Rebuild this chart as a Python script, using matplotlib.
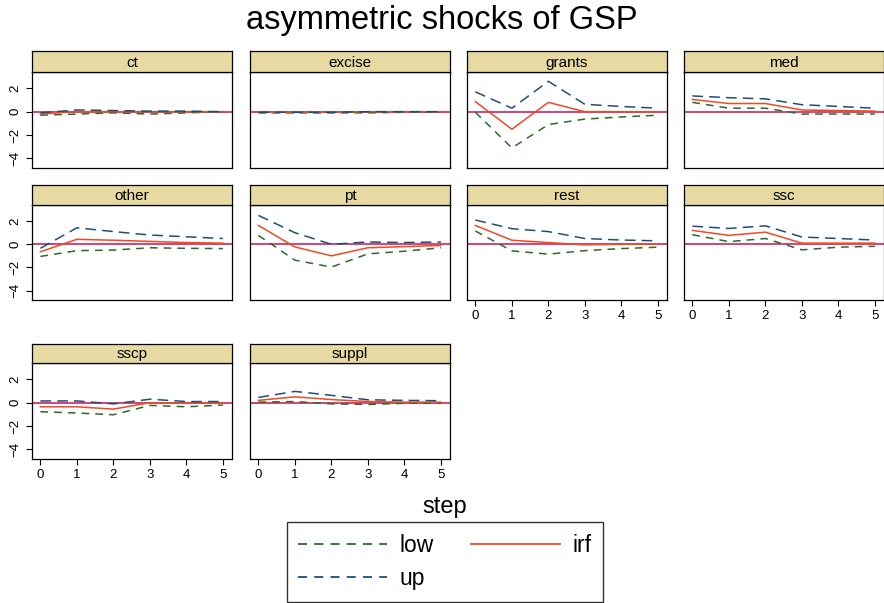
import numpy as np
import matplotlib
matplotlib.use("Agg")
from matplotlib import pyplot as plt
from matplotlib.lines import Line2D

plt.rcParams['font.family'] = ['Liberation Sans', 'DejaVu Sans']

steps = [0, 1, 2, 3, 4, 5]
panels = ['ct', 'excise', 'grants', 'med', 'other', 'pt', 'rest', 'ssc', 'sscp', 'suppl']

low = {
    'ct':     [-0.3, -0.2, -0.1, -0.2, -0.1, 0.0],
    'excise': [-0.1, -0.1, -0.1, -0.1, -0.05, 0.0],
    'grants': [-0.05, -3.1, -1.1, -0.63, -0.45, -0.3],
    'med':    [0.8, 0.3, 0.3, -0.2, -0.2, -0.2],
    'other':  [-1.05, -0.55, -0.5, -0.3, -0.35, -0.37],
    'pt':     [0.77, -1.37, -1.97, -0.83, -0.6, -0.3],
    'rest':   [1.15, -0.57, -0.85, -0.55, -0.37, -0.25],
    'ssc':    [0.83, 0.23, 0.5, -0.48, -0.25, -0.17],
    'sscp':   [-0.77, -0.88, -1.03, -0.23, -0.35, -0.2],
    'suppl':  [0.05, 0.1, -0.1, -0.15, -0.05, -0.05],
}
up = {
    'ct':     [-0.1, 0.15, 0.1, 0.05, 0.05, 0.0],
    'excise': [-0.05, -0.05, -0.05, 0.0, 0.0, 0.0],
    'grants': [1.7, 0.3, 2.6, 0.63, 0.45, 0.3],
    'med':    [1.35, 1.2, 1.1, 0.6, 0.45, 0.3],
    'other':  [-0.35, 1.43, 1.1, 0.8, 0.65, 0.5],
    'pt':     [2.5, 1.0, 0.0, 0.2, 0.15, 0.2],
    'rest':   [2.1, 1.35, 1.1, 0.5, 0.37, 0.3],
    'ssc':    [1.57, 1.37, 1.6, 0.63, 0.5, 0.37],
    'sscp':   [0.15, 0.15, -0.1, 0.3, 0.1, 0.1],
    'suppl':  [0.45, 0.97, 0.63, 0.25, 0.2, 0.17],
}
irf = {
    'ct':     [-0.2, 0.0, 0.0, 0.0, 0.0, 0.0],
    'excise': [-0.05, -0.05, -0.05, 0.0, 0.0, 0.0],
    'grants': [0.86, -1.5, 0.8, 0.0, 0.0, 0.0],
    'med':    [1.05, 0.7, 0.7, 0.15, 0.1, 0.05],
    'other':  [-0.65, 0.43, 0.35, 0.25, 0.15, 0.1],
    'pt':     [1.63, -0.23, -1.0, -0.3, -0.2, -0.1],
    'rest':   [1.63, 0.35, 0.15, -0.05, 0.0, 0.0],
    'ssc':    [1.2, 0.77, 1.05, 0.1, 0.1, 0.1],
    'sscp':   [-0.35, -0.35, -0.55, 0.0, -0.05, 0.0],
    'suppl':  [0.2, 0.5, 0.27, 0.1, 0.05, 0.05],
}

c_low = '#2a6b2a'
c_up = '#1f4e79'
c_irf = '#f04a24'
c_zero = '#d6336b'
c_strip = '#e6d9a2'

W, H = 884, 603
fig = plt.figure(figsize=(W / 100, H / 100), dpi=100)

col_x = [32, 250, 467, 684]
pw = 200
rows = [(51, 72, 168), (185, 205, 300), (344, 363, 459)]


def px(x0, y0, x1, y1):
    return [x0 / W, 1 - y1 / H, (x1 - x0) / W, (y1 - y0) / H]


for i, name in enumerate(panels):
    r, c = divmod(i, 4)
    st, top, bot = rows[r]
    x0 = col_x[c]
    ax = fig.add_axes(px(x0, top, x0 + pw, bot))
    ax.axhline(0, color=c_zero, lw=1.3, zorder=1)
    ax.plot(steps, low[name], color=c_low, lw=1.1, dashes=(5, 4), zorder=2)
    ax.plot(steps, up[name], color=c_up, lw=1.1, dashes=(7, 4), zorder=3)
    ax.plot(steps, irf[name], color=c_irf, lw=1.1, zorder=2)
    ax.set_xlim(-0.23, 5.25)
    ax.set_ylim(-4.82, 3.4)
    ax.set_yticks([-4, -2, 0, 2])
    ax.set_xticks(steps)
    ax.tick_params(direction='out', length=4, labelsize=9.5, width=0.8)
    bottom_of_col = (i + 4 >= len(panels))
    if not bottom_of_col:
        ax.tick_params(axis='x', bottom=False, labelbottom=False)
    if c != 0:
        ax.tick_params(axis='y', left=False, labelleft=False)
    else:
        for lab in ax.get_yticklabels():
            lab.set_rotation(90)
            lab.set_va('center')
    for s in ax.spines.values():
        s.set_linewidth(0.9)

    sax = fig.add_axes(px(x0, st, x0 + pw, top))
    sax.set_facecolor(c_strip)
    sax.set_xticks([])
    sax.set_yticks([])
    for s in sax.spines.values():
        s.set_linewidth(0.9)
    sax.text(0.5, 0.45, name, ha='center', va='center', fontsize=11, transform=sax.transAxes)

fig.text(442 / W, 1 - 20 / H, 'asymmetric shocks of GSP', ha='center', va='center', fontsize=23.5)
fig.text(445 / W, 1 - 507 / H, 'step', ha='center', va='center', fontsize=17)

handles = [
    Line2D([], [], color=c_low, lw=1.3, dashes=(5, 4)),
    Line2D([], [], color=c_up, lw=1.3, dashes=(5, 4)),
    Line2D([], [], color=c_irf, lw=1.3),
]
leg = fig.legend(handles, ['low', 'up', 'irf'], ncol=2, loc='center',
                 bbox_to_anchor=(445 / W, 1 - 562 / H), fontsize=16.5,
                 handlelength=3.9, frameon=True, fancybox=False,
                 edgecolor='black', columnspacing=1.6, handletextpad=0.55,
                 borderpad=0.5, labelspacing=0.45)
leg.get_frame().set_linewidth(1.0)

fig.savefig('out.png', dpi=100)
